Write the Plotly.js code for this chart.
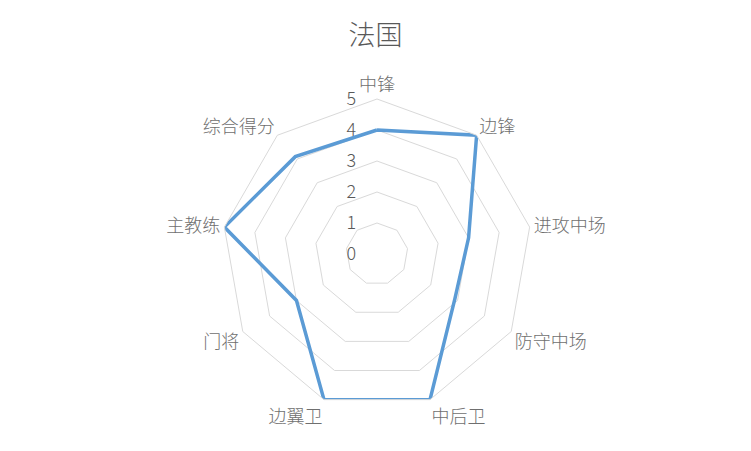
<!DOCTYPE html>
<html>
<head>
<meta charset="utf-8">
<script src="https://cdn.plot.ly/plotly-3.0.1.min.js"></script>
<style>html,body{margin:0;padding:0;background:#fff;}#chart{width:751px;height:451px;}</style>
</head>
<body>
<div id="chart"></div>
<script>
const titleText = "法国";
const categories = ["中锋", "边锋", "进攻中场", "防守中场", "中后卫", "边翼卫", "门将", "主教练", "综合得分"];
const values = [4, 5, 3, 2.9, 5, 5, 3, 5, 4.1];
const tickValues = [0, 1, 2, 3, 4, 5];

const fontFam = "'Noto Sans CJK SC', 'Microsoft YaHei', sans-serif";
const trace = {
  type: "scatterpolar",
  r: values.concat([values[0]]),
  theta: categories.concat([categories[0]]),
  mode: "lines",
  line: {color: "#5B9BD5", width: 3.5},
  hoverinfo: "skip"
};
const layout = {
  width: 751, height: 451,
  margin: {l: 0, r: 0, t: 0, b: 0},
  paper_bgcolor: "#fff",
  showlegend: false,
  title: {text: titleText, x: 0.5, xanchor: "center", y: 0.922, yanchor: "middle",
          font: {family: fontFam, size: 27, color: "#595959", weight: 300}},
  font: {family: fontFam, color: "#595959"},
  polar: {
    domain: {x: [222/751, 532/751], y: [42/451, 352/451]},
    bgcolor: "#fff",
    gridshape: "linear",
    radialaxis: {
      range: [0, 5], tickvals: tickValues, ticktext: tickValues.map(String),
      angle: 90, side: "counterclockwise", tickangle: 90,
      showline: false, ticks: "outside", ticklen: 14, tickcolor: "rgba(0,0,0,0)",
      gridcolor: "#d9d9d9", gridwidth: 1,
      tickfont: {family: fontFam, size: 18, color: "#595959", weight: 300}
    },
    angularaxis: {
      direction: "clockwise", rotation: 90,
      showgrid: false, showline: true, linecolor: "#d9d9d9", linewidth: 1,
      ticks: "", tickfont: {family: fontFam, size: 18, color: "#6f6f6f", weight: 300}
    }
  }
};
Plotly.newPlot("chart", [trace], layout, {displayModeBar: false, staticPlot: true});
</script>
</body>
</html>
